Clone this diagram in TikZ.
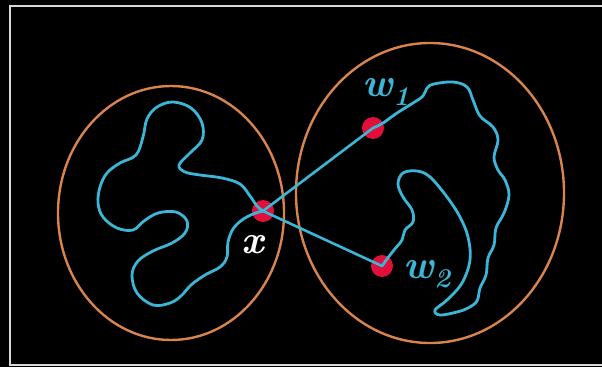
\documentclass[tikz,border=0pt]{standalone}
\usepackage{tikz}
\definecolor{bgc}{HTML}{000000}
\definecolor{framec}{HTML}{D8D8D8}
\definecolor{orangec}{HTML}{D9844C}
\definecolor{cyanc}{HTML}{3CB6D6}
\definecolor{redc}{HTML}{E0103A}
\newcommand{\subsc}[1]{\raisebox{-0.22em}{\fontsize{27}{27}\selectfont #1}}
\tikzset{
  setline/.style={draw=orangec, line width=2.4pt},
  blob/.style={draw=cyanc, line width=2.8pt, smooth, tension=0.6, line join=round, line cap=round},
  link/.style={draw=cyanc, line width=2.6pt, line cap=round},
  dotnode/.style={circle, fill=redc, inner sep=0pt, minimum size=22pt},
  lab/.style={font=\fontsize{40}{40}\selectfont\bfseries\itshape, inner sep=0pt}
}
\begin{document}
\begin{tikzpicture}[x=1pt,y=-1pt]
\useasboundingbox (0,0) rectangle (602,367);
\fill[bgc] (0,0) rectangle (602,367);
% frame
\draw[framec, line width=2.6pt] (603,6) -- (10,6) -- (10,365) -- (603,365);
% sets
\draw[setline] (171,213) ellipse [x radius=113, y radius=127];
\draw[setline] (430,193) ellipse [x radius=134, y radius=150];
% points
\node[dotnode] (x) at (263,211) {};
\node[dotnode] (w1) at (373,128) {};
\node[dotnode] (w2) at (382,266) {};
% left blob
\draw[blob] plot coordinates {(263,211) (257,206) (250,196) (240,184) (222,178) (200,175) (185,172) (179,165) (190,153) (202,140) (202,123) (191,108) (173,102) (157,107) (147,119) (143,137) (136,155) (120,163) (107,173) (100,187) (98,203) (103,217) (117,228) (133,230) (144,221) (158,213) (176,212) (187,221) (185,233) (172,243) (153,251) (138,261) (132,275) (137,293) (153,305) (170,303) (181,296) (191,285) (205,275) (220,267) (227,257) (228,242) (233,229) (242,220) (253,214) (263,211)};
% right blob
\draw[blob] plot coordinates {(373,128) (383,123) (397,113) (413,103) (423,96) (427,88) (434,84) (453,82) (467,87) (473,100) (480,116) (493,127) (498,140) (494,157) (498,170) (505,180) (509,195) (504,213) (496,228) (494,245) (488,258) (486,275) (480,288) (477,301) (468,308) (457,312) (440,315) (435,310) (447,300) (462,283) (470,260) (468,237) (460,217) (447,197) (430,177) (417,171) (403,173) (398,184) (403,197) (412,210) (413,222) (405,230) (402,240) (394,250) (387,259) (382,266)};
% connectors
\draw[link] (x.center) -- (w1.center);
\draw[link] (x.center) -- (w2.center);
% labels
\node[lab, text=white] (xl) at (253,245) {x};
\node[lab, text=cyanc] (w1l) at (386,92) {w\subsc{1}};
\node[lab, text=cyanc] (w2l) at (427,274) {w\subsc{2}};
\end{tikzpicture}
\end{document}
